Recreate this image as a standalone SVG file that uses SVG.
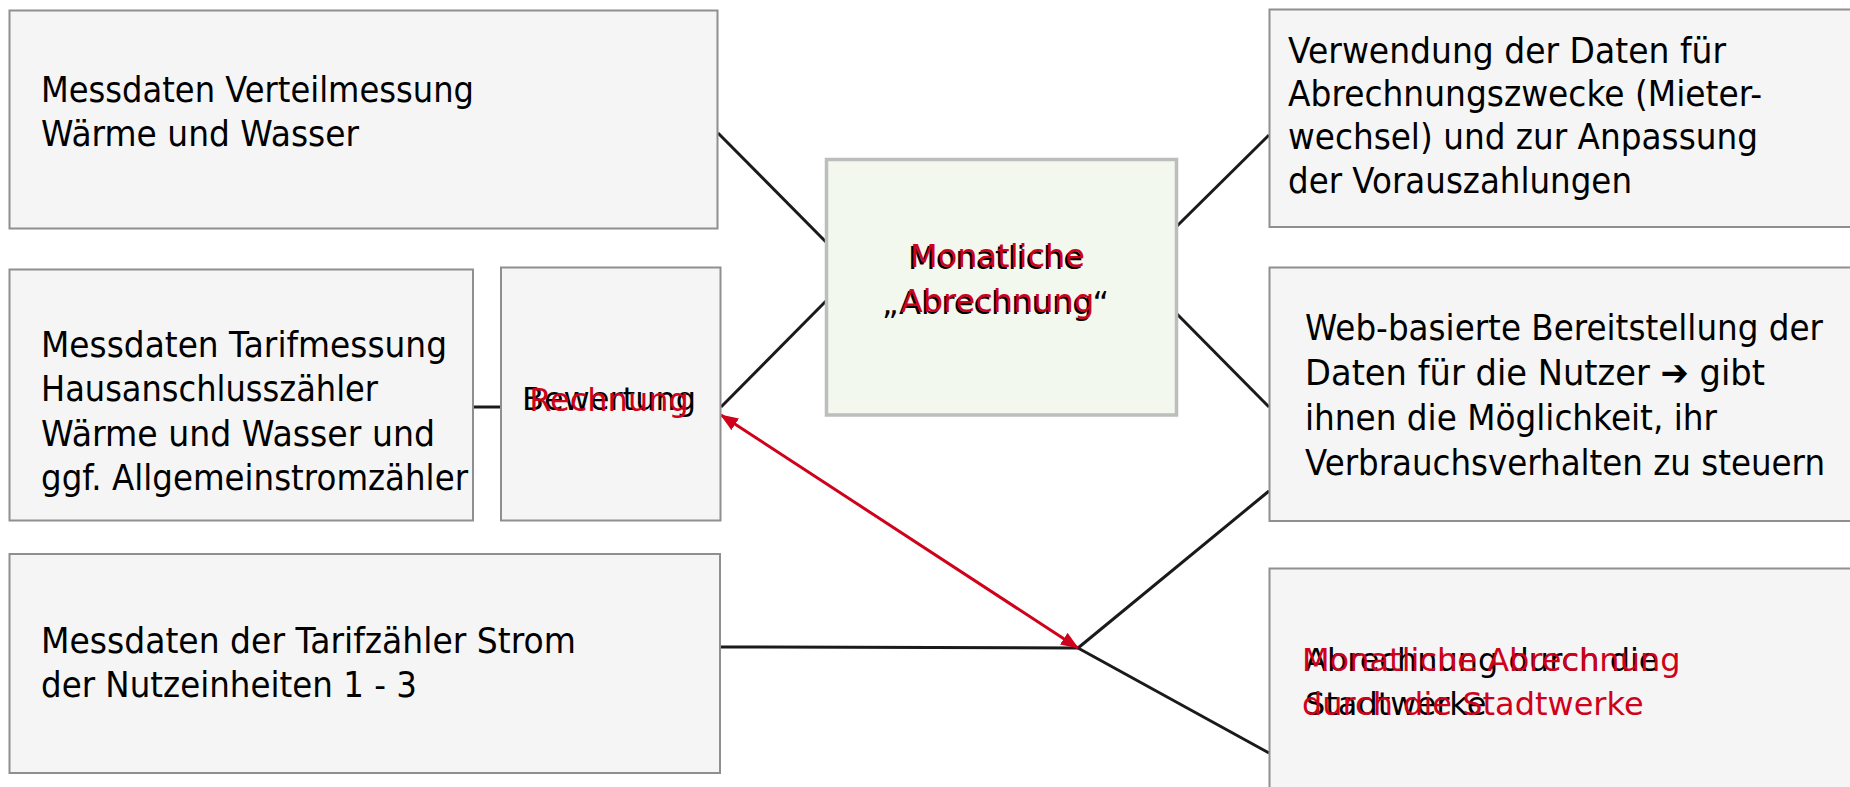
<svg xmlns="http://www.w3.org/2000/svg" width="1850" height="787" viewBox="0 0 1850 787">
<style>
.box{fill:#f5f5f5;stroke:#8f8f8f;stroke-width:2}
.center{fill:#f3f8ef;stroke:#bdbdbd;stroke-width:3.5}
.conn{stroke:#1a1a1a;stroke-width:3;fill:none}
.red{stroke:#d0021b;stroke-width:3;fill:none}
.t{font-family:"DejaVu Sans",Verdana,sans-serif;font-size:36px;fill:#000}
.n{font-family:"DejaVu Sans",Verdana,sans-serif;font-size:32px;fill:#000}
.r{fill:#d0021b}
</style>
<defs>
<marker id="ah" viewBox="0 0 18 14" refX="17" refY="7" markerWidth="18" markerHeight="14" markerUnits="userSpaceOnUse" orient="auto-start-reverse">
<path d="M0,0 L18,7 L0,14 Z" fill="#d0021b"/>
</marker>
</defs>
<rect width="1850" height="787" fill="#fff"/>
<g id="connectors">
<line class="conn" x1="718" y1="133" x2="826" y2="242"/>
<line class="conn" x1="721" y1="407" x2="826" y2="301"/>
<line class="conn" x1="473" y1="407" x2="501" y2="407"/>
<line class="conn" x1="720" y1="647" x2="1078" y2="648"/>
<line class="conn" x1="1078" y1="648" x2="1269" y2="491"/>
<line class="conn" x1="1078" y1="648" x2="1269" y2="753"/>
<line class="conn" x1="1177" y1="226" x2="1269" y2="135"/>
<line class="conn" x1="1177" y1="314" x2="1269" y2="407"/>
<line class="red" x1="721" y1="415" x2="1078" y2="648" marker-start="url(#ah)" marker-end="url(#ah)"/>
</g>
<g id="n-verteil">
<rect class="box" x="9.5" y="10.5" width="708" height="218"/>
<text class="t" x="41" y="102" textLength="433" lengthAdjust="spacingAndGlyphs">Messdaten Verteilmessung</text>
<text class="t" x="41" y="146" textLength="318" lengthAdjust="spacingAndGlyphs">Wärme und Wasser</text>
</g>
<g id="n-tarif">
<rect class="box" x="9.5" y="269.5" width="463.5" height="251"/>
<text class="t" x="41" y="357" textLength="406" lengthAdjust="spacingAndGlyphs">Messdaten Tarifmessung</text>
<text class="t" x="41" y="401" textLength="337" lengthAdjust="spacingAndGlyphs">Hausanschlusszähler</text>
<text class="t" x="41" y="446" textLength="394" lengthAdjust="spacingAndGlyphs">Wärme und Wasser und</text>
<text class="t" x="41" y="490" textLength="427" lengthAdjust="spacingAndGlyphs">ggf. Allgemeinstromzähler</text>
</g>
<g id="n-bewertung">
<rect class="box" x="501" y="267.5" width="219.5" height="253"/>
<text class="n" x="609" y="410" text-anchor="middle">Bewertung</text>
<text class="n r" x="609" y="411" text-anchor="middle">Rechnung</text>
</g>
<g id="n-strom">
<rect class="box" x="9.5" y="554" width="710.5" height="219"/>
<text class="t" x="41" y="653" textLength="535" lengthAdjust="spacingAndGlyphs">Messdaten der Tarifzähler Strom</text>
<text class="t" x="41" y="697" textLength="376" lengthAdjust="spacingAndGlyphs">der Nutzeinheiten 1 - 3</text>
</g>
<g id="n-abrechnung">
<rect class="center" x="826.5" y="159.5" width="350" height="255.5"/>
<text class="n" x="995.5" y="269" text-anchor="middle">Monatliche</text>
<text class="n" x="995.5" y="314" text-anchor="middle">„Abrechnung“</text>
<text class="n r" x="997.5" y="267" text-anchor="middle">Monatliche</text>
<text class="n r" x="997.5" y="312" text-anchor="middle">Abrechnung</text>
</g>
<g id="n-verwendung">
<rect class="box" x="1269.5" y="9.5" width="590" height="217.5"/>
<text class="t" x="1288" y="63" textLength="438" lengthAdjust="spacingAndGlyphs">Verwendung der Daten für</text>
<text class="t" x="1288" y="106" textLength="474" lengthAdjust="spacingAndGlyphs">Abrechnungszwecke (Mieter-</text>
<text class="t" x="1288" y="149" textLength="470" lengthAdjust="spacingAndGlyphs">wechsel) und zur Anpassung</text>
<text class="t" x="1288" y="193" textLength="344" lengthAdjust="spacingAndGlyphs">der Vorauszahlungen</text>
</g>
<g id="n-web">
<rect class="box" x="1269.5" y="267.5" width="590" height="253.5"/>
<text class="t" x="1305" y="340" textLength="518" lengthAdjust="spacingAndGlyphs">Web-basierte Bereitstellung der</text>
<text class="t" x="1305" y="385" textLength="460" lengthAdjust="spacingAndGlyphs">Daten für die Nutzer ➔ gibt</text>
<text class="t" x="1305" y="430" textLength="412" lengthAdjust="spacingAndGlyphs">ihnen die Möglichkeit, ihr</text>
<text class="t" x="1305" y="475" textLength="520" lengthAdjust="spacingAndGlyphs">Verbrauchsverhalten zu steuern</text>
</g>
<g id="n-stadtwerke">
<rect class="box" x="1269.5" y="568.5" width="590" height="230"/>
<text class="n" x="1305" y="671">Abrechnung durch die</text>
<text class="n" x="1305" y="715">Stadtwerke</text>
<text class="n r" x="1302" y="671">Monatliche Abrechnung</text>
<text class="n r" x="1302" y="715">durch die Stadtwerke</text>
</g>
</svg>
